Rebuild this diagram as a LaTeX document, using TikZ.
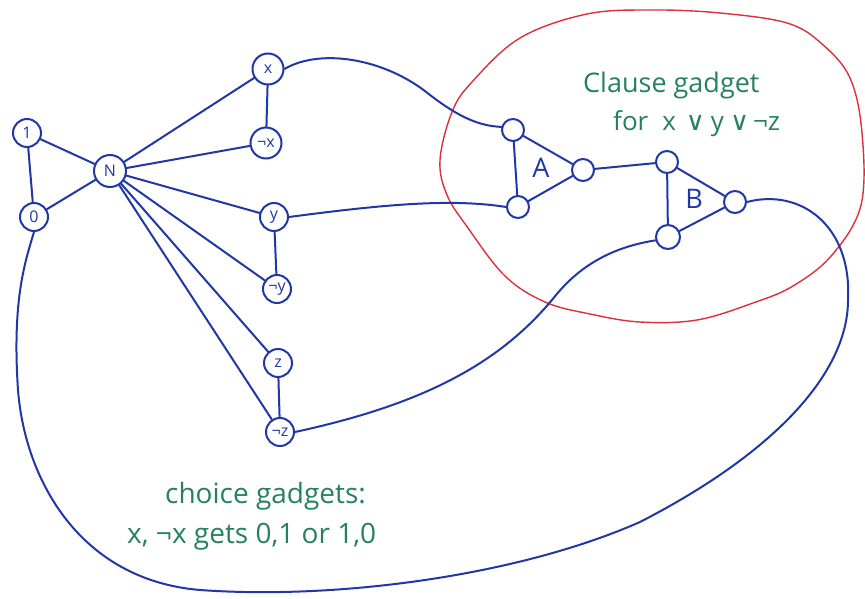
\documentclass[tikz,border=0pt]{standalone}
\usepackage{fontspec}
\setmainfont{Open Sans}
\newfontfamily\symfont{DejaVu Sans}
\definecolor{ink}{RGB}{32,55,165}
\definecolor{note}{RGB}{38,128,98}
\definecolor{rim}{RGB}{222,48,58}

\tikzset{
  vert/.style={circle, draw=ink, line width=2pt, inner sep=0pt, text=ink,
               font=\fontsize{16}{16}\selectfont},
  lit/.style={vert, minimum size=28pt},
  port/.style={vert, minimum size=22pt},
  wire/.style={draw=ink, line width=2pt, line cap=round},
  remark/.style={text=note, inner sep=0pt, anchor=base west},
  gadgetname/.style={text=ink, inner sep=0pt, font=\fontsize{27}{27}\selectfont},
  rimline/.style={draw=rim, line width=1.4pt},
}

\begin{document}
\begin{tikzpicture}[x=1pt,y=-1pt]
\useasboundingbox (0,0) rectangle (865,599);

% clause region
\draw[rimline] plot[smooth cycle, tension=0.6] coordinates {
  (440,160) (452,112) (472,82) (520,38) (587,14) (653,10) (720,13)
  (787,23) (822,44) (850,78) (862,133) (861,205) (832,255) (793,286)
  (753,303) (697,320) (640,322) (590,314) (545,302) (505,276) (468,228) (447,195)};

% constant and neutral vertices
\node[lit] (one) at (27,133) {1};
\node[lit] (zero) at (34,217) {0};
\node[vert, minimum size=32pt] (n) at (110,171) {N};

% literal vertices
\node[lit, minimum size=31pt] (x)  at (268,69)  {x};
\node[lit, minimum size=31pt] (nx) at (266,143) {¬x};
\node[lit] (y)  at (274,217) {y};
\node[lit] (ny) at (277,289) {¬y};
\node[lit] (z)  at (278,363) {z};
\node[lit] (nz) at (280,432) {¬z};

% gadget A
\node[port] (a1) at (513,130) {};
\node[port] (a2) at (583,170) {};
\node[port] (a3) at (518,207) {};
\node[gadgetname] (la) at (541,168) {A};

% gadget B
\node[port] (b1) at (667,162) {};
\node[port] (b2) at (735,202) {};
\node[port, minimum size=24pt] (b3) at (668,237) {};
\node[gadgetname] (lb) at (694,199) {B};

% choice gadget edges
\draw[wire] (one) -- (zero);
\draw[wire] (one) -- (n);
\draw[wire] (zero) -- (n);
\foreach \v in {x,nx,y,ny,z,nz} \draw[wire] (n) -- (\v);
\draw[wire] (x) -- (nx);
\draw[wire] (y) -- (ny);
\draw[wire] (z) -- (nz);

% triangles
\draw[wire] (a1) -- (a2) -- (a3) -- (a1);
\draw[wire] (b1) -- (b2) -- (b3) -- (b1);
\draw[wire] (a2) -- (b1);

% literals into the clause gadget
\draw[wire] (x.east) .. controls (320,48) and (385,58) .. (430,95)
            .. controls (460,118) and (480,126) .. (a1.165);
\draw[wire] (y.east) .. controls (380,205) and (450,198) .. (a3.west);
\draw[wire] (nz.east) .. controls (420,405) and (500,365) .. (556,295)
            .. controls (585,260) and (620,246) .. (b3.195);

% output of B back to 0
\draw[wire] (b2.east) .. controls (800,188) and (852,225) .. (848,300)
            .. controls (848,370) and (780,450) .. (640,522)
            .. controls (520,575) and (340,600) .. (200,590)
            .. controls (80,580) and (25,480) .. (18,390)
            .. controls (12,300) and (25,262) .. (zero.south);

% annotations
\node[remark, font=\fontsize{27}{27}\selectfont] (t1) at (583,93) {Clause gadget};
\node[remark, font=\fontsize{26}{26}\selectfont] (t2) at (613,131)
  {for\hspace{14pt}x\hspace{10pt}{\symfont ∨}\hspace{6pt}y\hspace{6pt}{\symfont ∨}\hspace{4pt}¬z};
\node[remark, font=\fontsize{28}{28}\selectfont] (t3) at (165,503) {choice gadgets:};
\node[remark, font=\fontsize{28}{28}\selectfont] (t4) at (127,543) {x, ¬x gets 0,1 or 1,0};
\end{tikzpicture}
\end{document}
